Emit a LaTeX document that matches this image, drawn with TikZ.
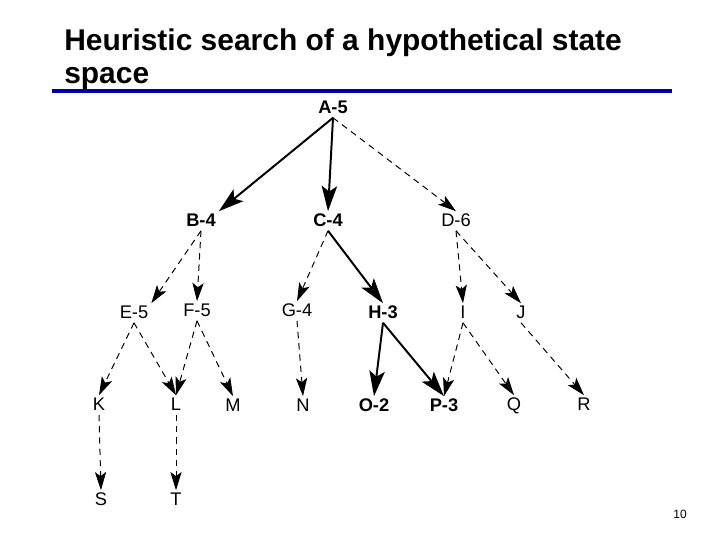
\documentclass[tikz,border=0pt]{standalone}
\usepackage{fontspec}
\setmainfont{Liberation Sans}
\definecolor{titleblue}{RGB}{0,0,170}
\usetikzlibrary{arrows.meta}

\begin{document}
\begin{tikzpicture}[
        x=0.025cm, y=-0.025cm,
        state/.style={inner sep=2pt, text height=1.6ex, text depth=0.2ex,
                      font=\fontsize{13}{15}\selectfont},
        best/.style={state, font=\fontsize{13}{15}\selectfont\bfseries},
        path/.style={-{Stealth[length=18pt, width=11pt, inset=4pt]}, line width=1.4pt},
        tried/.style={-{Stealth[length=13pt, width=8pt, inset=3pt]}, line width=0.7pt,
                      dash pattern=on 4.5pt off 3.5pt}
      ]
        \useasboundingbox (0,0) rectangle (720,540);
        % title and rule
        \node[anchor=north west, inner sep=0pt, align=left,
              font=\fontsize{21.3}{23}\selectfont\bfseries] (title) at (64,29)
              {Heuristic search of a hypothetical state\\space};
        \draw[titleblue, line width=2.2pt] (52,91) coordinate (rulel) -- (672,91) coordinate (ruler);
        % states
        \node[best] (a) at (333,108) {A-5};
        \node[best] (b) at (201,221) {B-4};
        \node[best] (c) at (328,221) {C-4};
        \node[state] (d) at (456,221) {D-6};
        \node[state] (e) at (134,313) {E-5};
        \node[state] (f) at (197,311) {F-5};
        \node[state] (g) at (297,311) {G-4};
        \node[best] (h) at (383,313) {H-3};
        \node[state] (i) at (463,313) {I};
        \node[state] (j) at (521,313) {J};
        \node[state] (k) at (99,405) {K};
        \node[state] (l) at (176,405) {L};
        \node[state] (m) at (233,406) {M};
        \node[state] (n) at (303,406) {N};
        \node[best] (o) at (374,406) {O-2};
        \node[best] (p) at (444,406) {P-3};
        \node[state] (q) at (514,405) {Q};
        \node[state] (r) at (584,405) {R};
        \node[state] (s) at (101,500) {S};
        \node[state] (t) at (176,500) {T};
        \node[font=\fontsize{8.5}{9}\selectfont] (page) at (680,514) {10};
        % search
        \draw[path] (a.south) -- (b.north east);
        \draw[path] (a.south) -- (c.north);
        \draw[tried] (a.south) -- (d.north);
        \draw[tried] (b.south) -- (e.north east);
        \draw[tried] (b.south) -- (f.north);
        \draw[tried] (c.south) -- (g.north);
        \draw[path] (c.south) -- (h.north);
        \draw[tried] (d.south) -- (i.north);
        \draw[tried] (d.south) -- (j.north);
        \draw[tried] (e.south) -- (k.north);
        \draw[tried] (e.south) -- (l.north);
        \draw[tried] (f.south) -- (l.north);
        \draw[tried] (f.south) -- (m.north);
        \draw[tried] (g.south) -- (n.north);
        \draw[path] (h.south) -- (o.north);
        \draw[path] (h.south) -- (p.north);
        \draw[tried] (i.south) -- (p.north);
        \draw[tried] (i.south) -- (q.north);
        \draw[tried] (j.south) -- (r.north);
        \draw[tried] (k.south) -- (s.north);
        \draw[tried] (l.south) -- (t.north);
      \end{tikzpicture}
\end{document}
